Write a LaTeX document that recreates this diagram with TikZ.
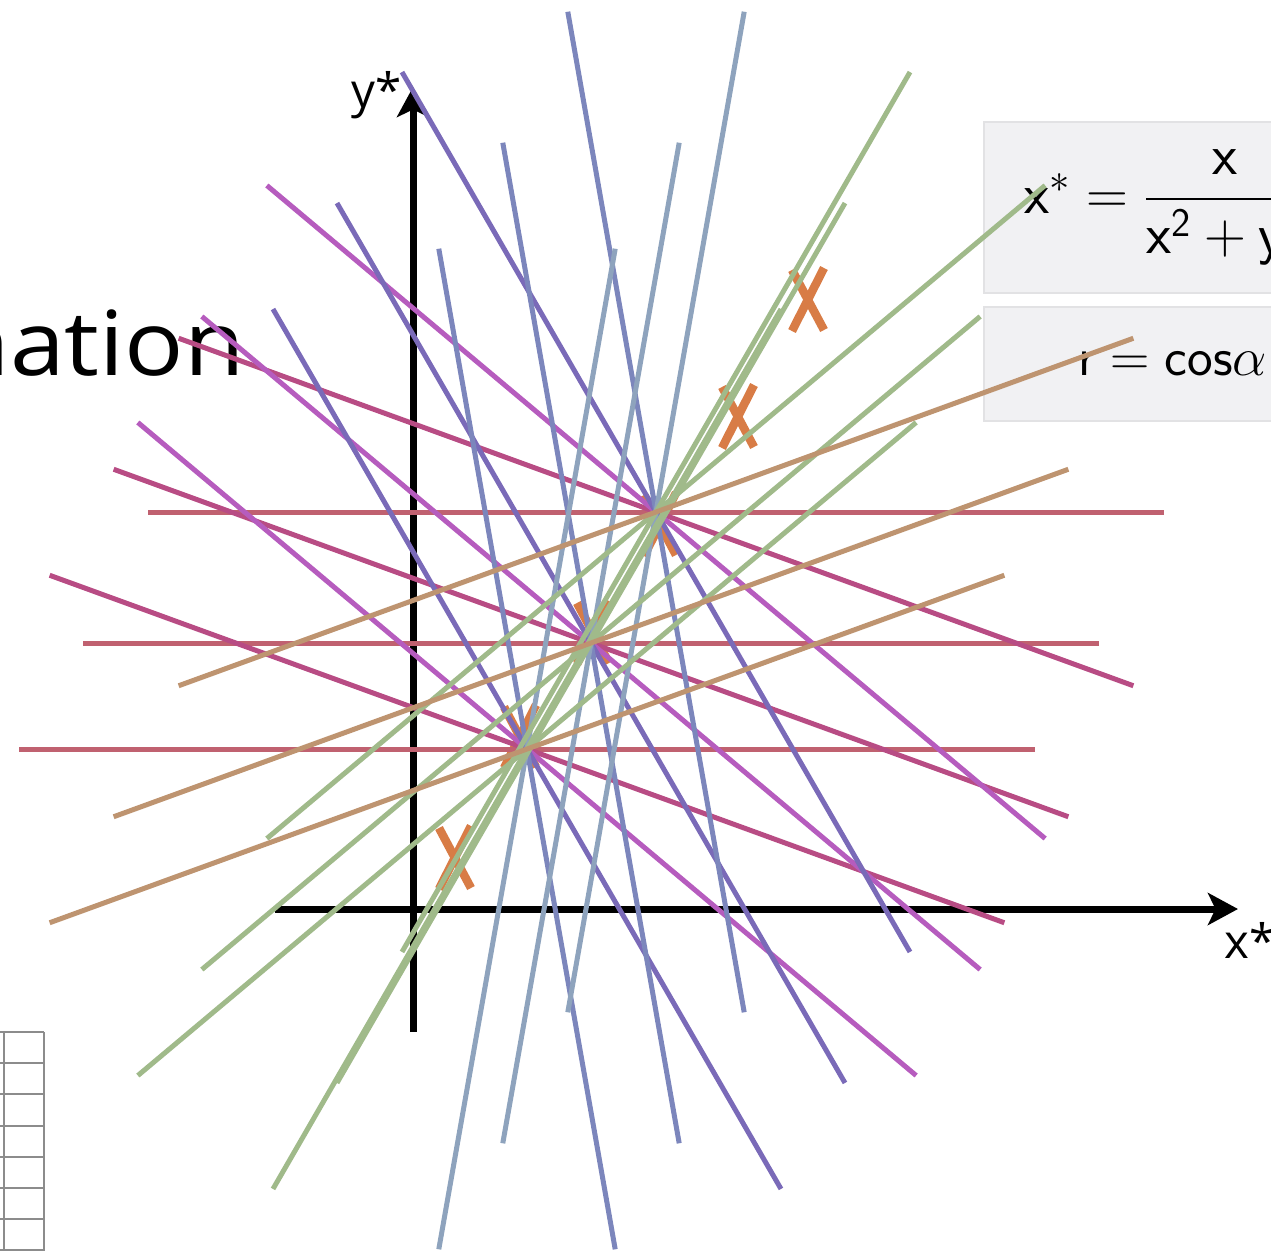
\documentclass[tikz,border=0pt]{standalone}
\usepackage{fix-cm}
\usepackage{amsmath}
\usepackage{fontspec}
\newfontfamily\slidefont{Open Sans}
\newfontfamily\titlefont[FakeStretch=1.1]{Open Sans}
\usetikzlibrary{arrows.meta, calc}
\definecolor{linered}{RGB}{192, 97, 112}
\definecolor{linepink}{RGB}{184, 76, 132}
\definecolor{lineorchid}{RGB}{182, 92, 190}
\definecolor{lineviolet}{RGB}{122, 106, 184}
\definecolor{lineslate}{RGB}{124, 134, 188}
\definecolor{linesteel}{RGB}{142, 163, 189}
\definecolor{linesage}{RGB}{160, 186, 138}
\definecolor{linetan}{RGB}{190, 148, 112}
\definecolor{markorange}{RGB}{216, 124, 70}
\definecolor{boxfill}{RGB}{241, 241, 243}
\definecolor{boxedge}{RGB}{226, 226, 228}
\definecolor{gridgray}{RGB}{140, 140, 140}
\tikzset{
  >=Stealth,
  axisarrow/.style={-{Stealth[length=6mm, width=6.4mm, inset=1.5mm]}, line width=1.4mm, black},
  houghline/.style={line width=1mm},
  crossmark/.style={line width=1.7mm, markorange},
  gridline/.style={line width=0.5mm, gridgray},
  formulabox/.style={rectangle, fill=boxfill, draw=boxedge, line width=0.4mm, anchor=west},
  axislabel/.style={font=\slidefont\fontsize{27}{32}\selectfont, inner sep=0pt}
}

\begin{document}
\begin{tikzpicture}[x=0.2mm, y=-0.2mm]
    \useasboundingbox (0,0) rectangle (1271,1251);
    \clip (0,0) rectangle (1271,1251);

    % formula boxes, cut off on the right
    \node[formulabox, minimum height=34.2mm, inner xsep=8mm, font=\fontsize{33}{40}\selectfont] (fbox1) at (983,207.5) {$\mathsf{x}^* = \dfrac{\mathsf{x}}{\mathsf{x}^{\mathsf{2}}+\mathsf{y}^{\mathsf{2}}}$};
    \node[formulabox, minimum height=22.8mm, inner xsep=18.8mm, font=\fontsize{31}{37}\selectfont] (fbox2) at (983,364) {$\mathsf{r} = \mathsf{cos}\alpha$};

    % title, cut off on the left
    \node[font=\titlefont\fontsize{51}{60}\selectfont, anchor=base east, inner sep=0pt] (title) at (245,375) {nation};

    % grid in the lower left corner
    \foreach \gy in {1032,1063,1094,1126,1157,1188,1219,1250}
        \draw[gridline] (-40,\gy) -- (44,\gy);
    \foreach \gx in {4,44}
        \draw[gridline] (\gx,1032) -- (\gx,1260);

    % axes
    \coordinate (ybot) at (413,1032);
    \coordinate (ytop) at (413,87);
    \coordinate (xleft) at (275,909);
    \coordinate (xright) at (1238,909);
    \draw[axisarrow] (ybot) -- (ytop);
    \draw[axisarrow] (xleft) -- (xright);
    \node[axislabel, anchor=base west] (ylabel) at (351,107) {y*};
    \node[axislabel, anchor=base west] (xlabel) at (1224,958) {x*};

    % points
    \foreach \mx/\my in {455/858, 520/737, 593/633, 660/525, 738/417, 808/300} {
        \draw[crossmark] (\mx-16,\my-30) -- (\mx+16,\my+30);
        \draw[crossmark] (\mx+16,\my-32) -- (\mx-16,\my+31);
    }

    % line pencils through the three centres
    \coordinate (p1) at (656,512);
    \coordinate (p2) at (591,643);
    \coordinate (p3) at (527,749);
    \foreach \ang/\col in {0/linered, 20/linepink, 40/lineorchid, 60/lineviolet, 80/lineslate, 100/linesteel, 120/linesage, 140/linesage, 160/linetan}
        \foreach \p in {p1, p2, p3}
            \draw[houghline, \col] ($(\p)+(\ang:508)$) -- ($(\p)+(\ang+180:508)$);
\end{tikzpicture}
\end{document}
